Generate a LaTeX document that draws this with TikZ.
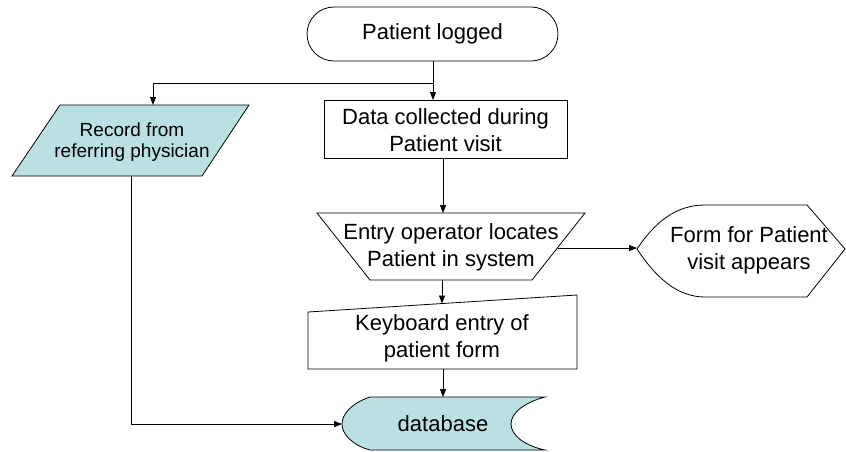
\documentclass[tikz,border=0pt]{standalone}
\usepackage{fontspec}
\setmainfont{Liberation Sans}
\usetikzlibrary{arrows.meta}
\definecolor{storefill}{RGB}{187,224,227}
\begin{document}
\begin{tikzpicture}[x=1pt,y=-1pt,
  shapeline/.style={draw=black,line width=0.8pt},
  txt/.style={font=\fontsize{22}{27}\selectfont,align=center,inner sep=0pt},
  smalltxt/.style={txt,font=\fontsize{19}{21}\selectfont},
  flow/.style={draw=black,line width=0.8pt,-{Triangle[length=8pt,width=6pt]}}]
\useasboundingbox (0,0) rectangle (846,451);

% start terminal
\draw[shapeline,rounded corners=27pt] (307,7) rectangle (558,61);
\node[txt] (logged) at (432.5,34) {Patient logged};
\coordinate (loggedOut) at (433,61);
\coordinate (split) at (433,83);

% process box
\draw[shapeline] (324,100) rectangle (567,158);
\node[txt] (collect) at (445.5,130) {Data collected during\\Patient visit};
\coordinate (collectIn) at (433,100);
\coordinate (collectOut) at (443,158);

% input/output parallelogram
\draw[shapeline,fill=storefill] (60,105) -- (249,105) -- (202,176) -- (12,176) -- cycle;
\node[smalltxt] (record) at (132,142) {Record from\\referring physician};
\coordinate (recordIn) at (153,105);
\coordinate (recordOut) at (131,176);

% manual operation
\draw[shapeline] (317,213) -- (585,213) -- (532,280) -- (370,280) -- cycle;
\node[txt] (locate) at (451,247) {Entry operator locates\\Patient in system};
\coordinate (locateIn) at (443,213);
\coordinate (locateRight) at (558,248);
\coordinate (locateOut) at (442,280);

% display
\draw[shapeline] (637,249) .. controls (655,222) and (676,205) .. (705,205)
  -- (807,205) -- (845,249) -- (807,297) -- (705,297)
  .. controls (676,297) and (655,276) .. (637,249) -- cycle;
\node[txt] (form) at (749,250) {Form for Patient\\visit appears};
\coordinate (formIn) at (637,248);

% manual input
\draw[shapeline] (308,312) -- (577,295) -- (577,369) -- (308,369) -- cycle;
\node[txt] (keyboard) at (442,338) {Keyboard entry of\\patient form};
\coordinate (keyboardIn) at (442,303.5);
\coordinate (keyboardOut) at (443,369);

% stored data
\draw[shapeline,fill=storefill] (370,397) -- (545,397)
  .. controls (526,402) and (511,412) .. (511,424)
  .. controls (511,436) and (526,446) .. (545,450)
  -- (370,450)
  .. controls (352,445) and (342,434) .. (342,424)
  .. controls (342,414) and (352,403) .. (370,397) -- cycle;
\node[txt] (database) at (443,424) {database};
\coordinate (databaseTop) at (443,397);
\coordinate (databaseLeft) at (342,424);

% connectors
\draw[flow] (loggedOut) -- (collectIn);
\draw[flow] (split) -| (recordIn);
\draw[flow] (collectOut) -- (locateIn);
\draw[flow] (locateRight) -- (formIn);
\draw[flow] (locateOut) -- (keyboardIn);
\draw[flow] (keyboardOut) -- (databaseTop);
\draw[flow] (recordOut) |- (databaseLeft);
\end{tikzpicture}
\end{document}
